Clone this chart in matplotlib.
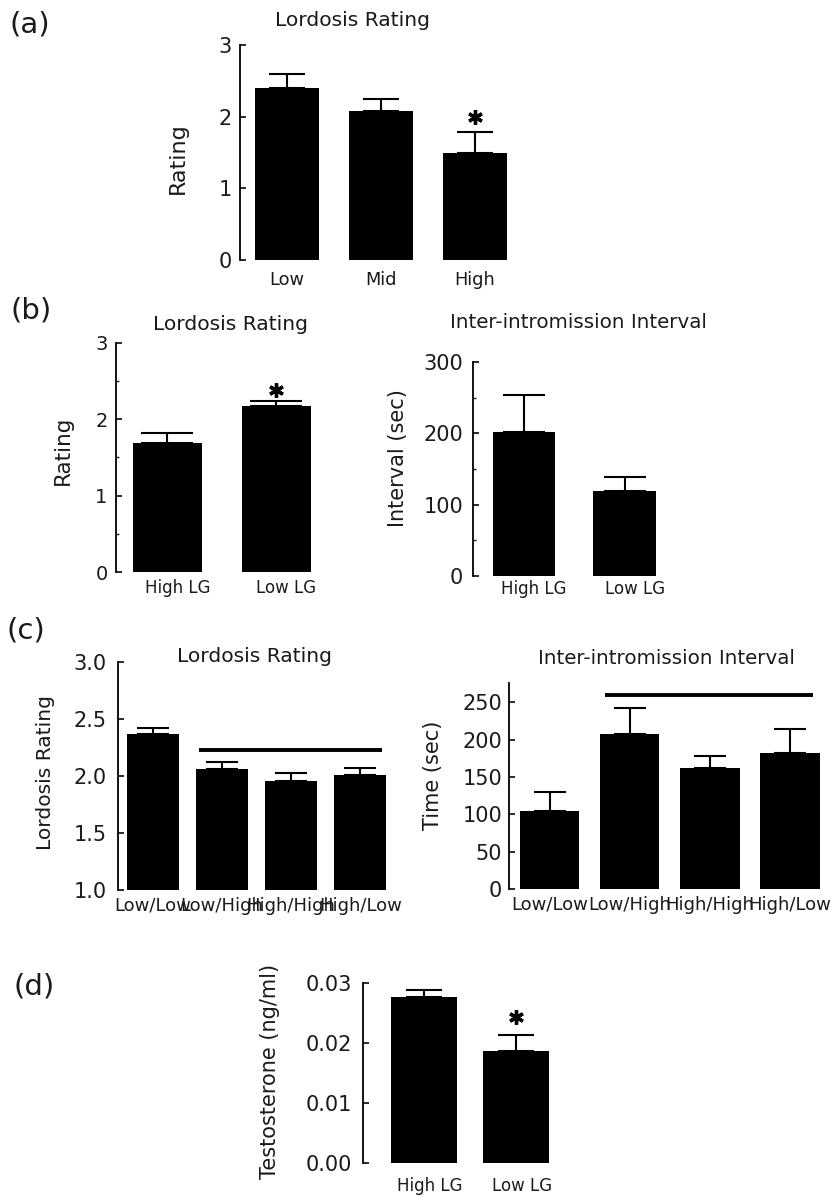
import numpy as np
import matplotlib
matplotlib.use('Agg')
import matplotlib.pyplot as plt
from matplotlib.transforms import ScaledTranslation

plt.rcParams['font.family'] = ['DejaVu Sans']
plt.rcParams['text.color'] = '#1a1a1a'
plt.rcParams['xtick.color'] = '#1a1a1a'
plt.rcParams['ytick.color'] = '#1a1a1a'

# ---- data ----
# (a) lordosis rating by maternal LG group
a_groups = ['Low', 'Mid', 'High']
a_means = [2.40, 2.08, 1.49]
a_sem = [0.19, 0.16, 0.29]
a_star_y = [None, None, 2.00]

# (b) cross-fostered offspring
b_groups = ['High LG', 'Low LG']
b_lordosis_means = [1.69, 2.18]
b_lordosis_sem = [0.13, 0.06]
b_lordosis_star_y = [None, 2.39]
b_interval_means = [202, 119]
b_interval_sem = [52, 20]

# (c) mother/offspring combos
c_groups = ['Low/Low', 'Low/High', 'High/High', 'High/Low']
c_lordosis_means = [2.37, 2.06, 1.96, 2.01]
c_lordosis_sem = [0.05, 0.06, 0.07, 0.06]
c_lordosis_line = (0.67, 3.31, 2.23)   # x from, x to, y
c_interval_means = [104, 208, 162, 182]
c_interval_sem = [26, 35, 16, 33]
c_interval_line = (0.69, 3.29, 260)

# (d) testosterone
d_groups = ['High LG', 'Low LG']
d_means = [0.0276, 0.0187]
d_sem = [0.0013, 0.0026]
d_star_y = [None, 0.0243]

W, H = 837, 1197
fig = plt.figure(figsize=(W / 100, H / 100), dpi=100)


def add_ax(l, t, r, b):
    return fig.add_axes([l / W, 1 - b / H, (r - l) / W, (b - t) / H])


def ftext(x, y, s, **kw):
    fig.text(x / W, 1 - y / H, s, ha='center', va='center', **kw)


def bar_panel(ax, groups, means, sem, width, capsize, ylim, yticks, xlim,
              ylabelsize=15, xlabelsize=12, ypad=6, xpad=6, xshift=0,
              minor=None, stars=None, ytickfmt=None):
    x = np.arange(len(groups))
    ax.bar(x, means, width=width, color='black', edgecolor='none', zorder=2)
    ax.errorbar(x, means, yerr=[np.zeros(len(sem)), sem], fmt='none',
                ecolor='black', elinewidth=1.5, capsize=capsize,
                capthick=1.5, zorder=1)
    if stars is not None:
        for xi, sy in zip(x, stars):
            if sy is not None:
                ax.plot(xi, sy, marker=(6, 2, 0), ms=10.5, mew=2.4,
                        color='black', clip_on=False)
    ax.set_xlim(*xlim)
    ax.set_ylim(*ylim)
    ax.set_yticks(yticks)
    if ytickfmt is not None:
        ax.set_yticklabels([ytickfmt.format(v) for v in yticks])
    if minor is not None:
        ax.set_yticks(minor, minor=True)
        ax.tick_params(axis='y', which='minor', direction='in', length=2.5,
                       width=1.0)
    ax.set_xticks(x)
    ax.set_xticklabels(groups)
    for sp in ['top', 'right', 'bottom']:
        ax.spines[sp].set_visible(False)
    ax.spines['left'].set_linewidth(1.3)
    ax.tick_params(axis='y', which='major', direction='in', length=4,
                   width=1.3, labelsize=ylabelsize, pad=ypad)
    ax.tick_params(axis='x', length=0, labelsize=xlabelsize, pad=xpad)
    if xshift:
        off = ScaledTranslation(xshift / 100, 0, fig.dpi_scale_trans)
        for lab in ax.get_xticklabels():
            lab.set_transform(lab.get_transform() + off)


# (a)
ax_a = add_ax(240, 45, 522, 260)
bar_panel(ax_a, a_groups, a_means, a_sem, 0.68, 13, (0, 3), [0, 1, 2, 3],
          (-0.5, 2.5), xpad=8, xlabelsize=12.8, stars=a_star_y)
ftext(30, 24, '(a)', fontsize=21)
ftext(353, 20, 'Lordosis Rating', fontsize=14.6)
ftext(178, 158, 'Rating', fontsize=16, rotation=90)

# (b) left
ax_b1 = add_ax(116, 343, 331, 572)
bar_panel(ax_b1, b_groups, b_lordosis_means, b_lordosis_sem, 0.63, 19,
          (0, 3), [0, 1, 2, 3], (-0.47, 1.5), ylabelsize=14, xpad=5,
          xshift=10, minor=[0.5, 1.5, 2.5], stars=b_lordosis_star_y)
ftext(31, 310, '(b)', fontsize=21)
ftext(231, 325, 'Lordosis Rating', fontsize=14.6)
ftext(63, 450, 'Rating', fontsize=15.5, rotation=90)

# (b) right
ax_b2 = add_ax(473, 362, 675, 576)
bar_panel(ax_b2, b_groups, b_interval_means, b_interval_sem, 0.62, 15,
          (0, 300), [0, 100, 200, 300], (-0.507, 1.5), xpad=3, ypad=7,
          xshift=10, minor=[50, 150, 250])
ftext(578, 322, 'Inter-intromission Interval', fontsize=14.3)
ftext(398, 458, 'Interval (sec)', fontsize=15, rotation=90)

# (c) left
ax_c1 = add_ax(118, 662, 395, 890)
bar_panel(ax_c1, c_groups, c_lordosis_means, c_lordosis_sem, 0.75, 11.5,
          (1, 3), [1.0, 1.5, 2.0, 2.5, 3.0], (-0.5, 3.5), xlabelsize=13,
          xpad=5, ypad=8, ytickfmt='{:.1f}')
x0, x1, yl = c_lordosis_line
ax_c1.plot([x0, x1], [yl, yl], color='black', lw=2.8, solid_capstyle='butt')
ftext(26, 630, '(c)', fontsize=21)
ftext(255, 657, 'Lordosis Rating', fontsize=14.6)
ftext(46, 772, 'Lordosis Rating', fontsize=14.6, rotation=90)

# (c) right
ax_c2 = add_ax(509, 683, 830, 889)
bar_panel(ax_c2, c_groups, c_interval_means, c_interval_sem, 0.74, 11.5,
          (0, 276), [0, 50, 100, 150, 200, 250], (-0.51, 3.5),
          xlabelsize=13, xpad=5, ypad=5)
x0, x1, yl = c_interval_line
ax_c2.plot([x0, x1], [yl, yl], color='black', lw=2.8, solid_capstyle='butt')
ftext(666, 658, 'Inter-intromission Interval', fontsize=14.3)
ftext(433, 775, 'Time (sec)', fontsize=15, rotation=90)

# (d)
ax_d = add_ax(363, 983, 562, 1163)
bar_panel(ax_d, d_groups, d_means, d_sem, 0.71, 13, (0, 0.03),
          [0, 0.01, 0.02, 0.03], (-0.663, 1.5), xpad=10, ypad=8,
          xshift=6, stars=d_star_y, ytickfmt='{:.2f}')
ftext(34, 987, '(d)', fontsize=21)
ftext(270, 1071, 'Testosterone (ng/ml)', fontsize=15, rotation=90)

fig.savefig('out.png', dpi=100)
